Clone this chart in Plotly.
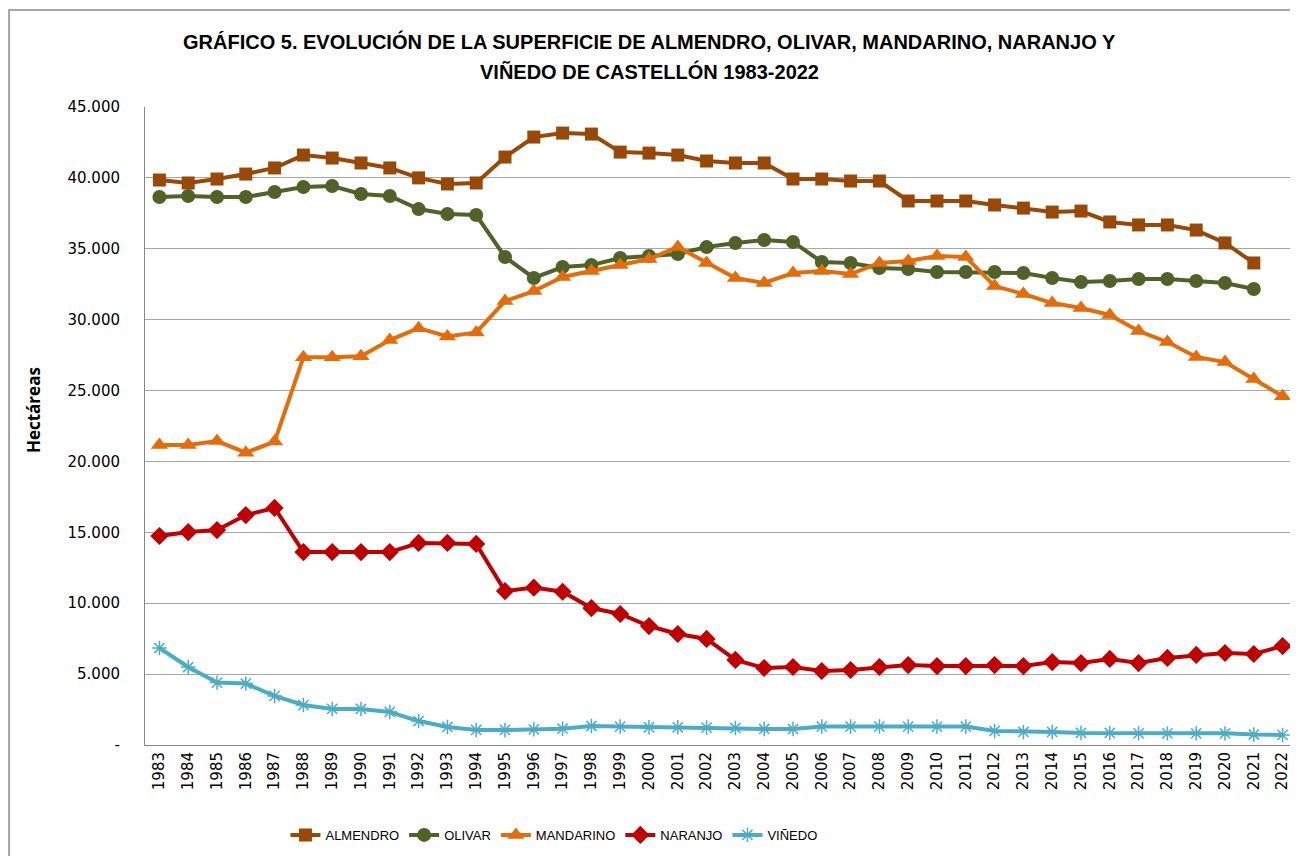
import plotly.graph_objects as go

years = [str(y) for y in range(1983, 2023)]

almendro = [39850, 39640, 39920, 40270, 40700, 41610, 41400, 41050, 40700, 40000,
            39570, 39640, 41470, 42880, 43160, 43090, 41820, 41750, 41610, 41190,
            41050, 41050, 39920, 39920, 39780, 39780, 38370, 38370, 38370, 38090,
            37870, 37590, 37660, 36890, 36680, 36680, 36320, 35410, 34000, None]

olivar = [38650, 38720, 38650, 38650, 39000, 39360, 39430, 38860, 38720, 37800,
          37450, 37380, 34420, 32940, 33710, 33850, 34350, 34490, 34630, 35120,
          35410, 35620, 35480, 34070, 34000, 33640, 33570, 33360, 33360, 33360,
          33290, 32940, 32660, 32730, 32870, 32870, 32730, 32590, 32160, None]

mandarino = [21160, 21160, 21440, 20620, 21400, 27350, 27350, 27420, 28560, 29400,
             28820, 29100, 31310, 32020, 33010, 33430, 33850, 34280, 35120, 34000,
             32940, 32590, 33290, 33430, 33220, 34000, 34140, 34490, 34420, 32370,
             31810, 31170, 30820, 30330, 29200, 28420, 27370, 27010, 25810, 24600]

naranjo = [14740, 15020, 15160, 16220, 16720, 13610, 13610, 13610, 13610, 14250,
           14250, 14180, 10860, 11100, 10810, 9660, 9240, 8390, 7830, 7480,
           6000, 5430, 5500, 5220, 5290, 5500, 5640, 5570, 5570, 5640,
           5570, 5850, 5780, 6070, 5780, 6140, 6350, 6490, 6420, 6980]

vinedo = [6840, 5500, 4400, 4330, 3460, 2820, 2540, 2540, 2330, 1690,
          1270, 1060, 1060, 1100, 1150, 1340, 1300, 1250, 1250, 1230,
          1200, 1130, 1130, 1300, 1300, 1300, 1300, 1300, 1300, 990,
          920, 920, 850, 850, 820, 820, 820, 820, 740, 710]

y_ticks = [0, 5000, 10000, 15000, 20000, 25000, 30000, 35000, 40000, 45000]
y_tick_text = ["-", "5.000", "10.000", "15.000", "20.000", "25.000", "30.000",
               "35.000", "40.000", "45.000"]

series = [
    ("ALMENDRO", almendro, "#984807", "square", 13),
    ("OLIVAR", olivar, "#4F6228", "circle", 14),
    ("MANDARINO", mandarino, "#E46C0A", "triangle-up", 15),
    ("NARANJO", naranjo, "#C00000", "diamond", 14),
    ("VIÑEDO", vinedo, "#4BACC6", "asterisk-open", 12),
]

fig = go.Figure()
for name, vals, color, sym, size in series:
    marker = dict(symbol=sym, size=size, color=color)
    if sym == "asterisk-open":
        marker["line"] = dict(color=color, width=1.5)
    fig.add_trace(go.Scatter(
        x=years, y=vals, name=name, mode="lines+markers",
        line=dict(color=color, width=4),
        marker=marker,
    ))

title_font = "Liberation Sans Narrow, Arial Narrow, Liberation Sans, Arial, sans-serif"

fig.update_layout(
    width=1290, height=848,
    paper_bgcolor="white", plot_bgcolor="white",
    margin=dict(l=137, r=1, t=99, b=111),
    legend=dict(
        orientation="h", x=0.355, xanchor="center", y=-0.141, yanchor="middle",
        font=dict(family="Liberation Sans, Arial, sans-serif", size=13, color="black"),
        tracegroupgap=0,
    ),
    showlegend=True,
)

# title lines
fig.add_annotation(
    text="<b>GRÁFICO 5. EVOLUCIÓN DE LA SUPERFICIE DE ALMENDRO, OLIVAR, MANDARINO, NARANJO Y</b>",
    xref="paper", yref="paper", x=(641 - 137) / 1152, y=1.1019,
    xanchor="center", yanchor="middle", showarrow=False,
    font=dict(family=title_font, size=20, color="black"))
fig.add_annotation(
    text="<b>VIÑEDO DE CASTELLÓN 1983-2022</b>",
    xref="paper", yref="paper", x=(641 - 137) / 1152, y=1.0549,
    xanchor="center", yanchor="middle", showarrow=False,
    font=dict(family=title_font, size=20, color="black"))

# y-axis title
fig.add_annotation(
    text="<b>Hectáreas</b>", textangle=-90,
    xref="paper", yref="paper", x=-0.0972, y=0.525,
    xanchor="center", yanchor="middle", showarrow=False,
    font=dict(family="Open Sans, sans-serif", size=17, color="black"))

fig.update_xaxes(
    type="category", range=[-0.5, 39.5],
    tickangle=-90, showgrid=False,
    showline=True, linecolor="#868686", linewidth=1,
    ticks="", tickfont=dict(family="DejaVu Sans, Open Sans, sans-serif", size=15, color="black"),
)
fig.update_yaxes(
    range=[0, 45000], tickvals=y_ticks, ticktext=y_tick_text,
    showgrid=True, gridcolor="#A6A6A6", gridwidth=1.3,
    showline=True, linecolor="#868686", linewidth=1,
    ticks="", ticklabelstandoff=21,
    tickfont=dict(family="DejaVu Sans, Open Sans, sans-serif", size=15, color="black"),
    zeroline=False,
)

# outer chart border
fig.add_shape(type="rect", xref="paper", yref="paper",
              x0=-0.1180, x1=1.0, y0=-0.25, y1=1.152,
              line=dict(color="#888888", width=1.5), fillcolor="rgba(0,0,0,0)",
              layer="below")

fig.write_html("out.html")
